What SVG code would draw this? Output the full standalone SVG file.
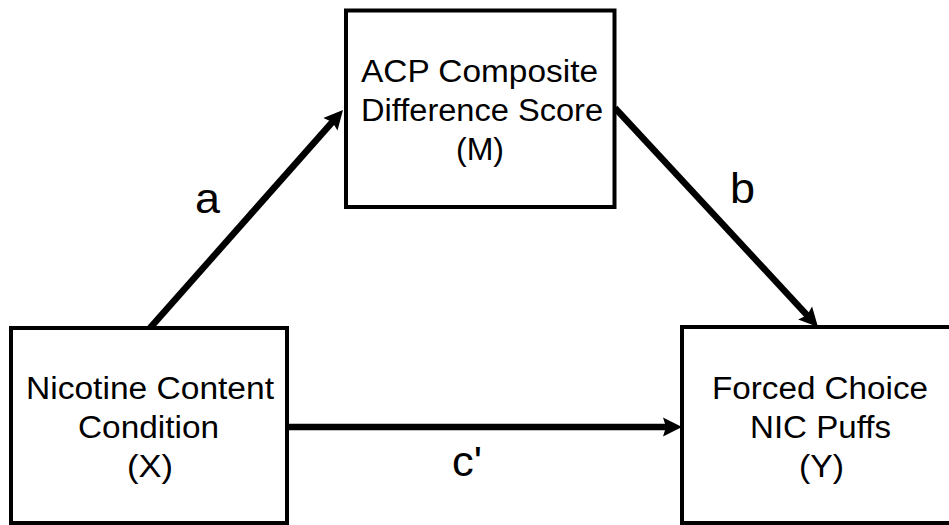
<svg xmlns="http://www.w3.org/2000/svg" width="949" height="525" viewBox="0 0 949 525">
<style>
.box{fill:#fff;stroke:#000;stroke-width:4}
.t{font-family:"Liberation Sans",Arial,sans-serif;font-size:31px;fill:#000}
.lbl{font-family:"Liberation Sans",Arial,sans-serif;font-size:42px;fill:#000}
.c{stroke:#000;stroke-width:6.5;fill:none;marker-end:url(#ah)}
</style>
<defs>
<marker id="ah" markerUnits="userSpaceOnUse" markerWidth="20" markerHeight="20" refX="5" refY="9.5" orient="auto" viewBox="0 0 20 19">
<path d="M0,0 L19,9.5 L0,19 L3,9.5 z" fill="#000"/>
</marker>
</defs>
<rect width="949" height="525" fill="#fff"/>
<g id="connectors">
<line class="c" x1="150" y1="328" x2="333.7" y2="120.5"/>
<line class="c" x1="615" y1="108" x2="808.5" y2="316.7"/>
<line class="c" x1="287" y1="427" x2="668" y2="427"/>
<text class="lbl" x="195" y="213" textLength="25" lengthAdjust="spacingAndGlyphs">a</text>
<text class="lbl" x="730" y="203" textLength="25" lengthAdjust="spacingAndGlyphs">b</text>
<text class="lbl" x="452" y="476" textLength="30" lengthAdjust="spacingAndGlyphs">c'</text>
</g>
<g id="nodeM">
<rect class="box" x="346" y="10.5" width="268.5" height="196.5"/>
<text class="t" x="361" y="82" textLength="237" lengthAdjust="spacingAndGlyphs">ACP Composite</text>
<text class="t" x="361" y="121" textLength="242" lengthAdjust="spacingAndGlyphs">Difference Score</text>
<text class="t" x="456" y="160" textLength="48" lengthAdjust="spacingAndGlyphs">(M)</text>
</g>
<g id="nodeX">
<rect class="box" x="11" y="328" width="276" height="195"/>
<text class="t" x="26" y="399" textLength="248" lengthAdjust="spacingAndGlyphs">Nicotine Content</text>
<text class="t" x="78" y="438" textLength="141" lengthAdjust="spacingAndGlyphs">Condition</text>
<text class="t" x="127" y="477" textLength="46" lengthAdjust="spacingAndGlyphs">(X)</text>
</g>
<g id="nodeY">
<rect class="box" x="682" y="327" width="276" height="196"/>
<text class="t" x="712" y="399" textLength="216" lengthAdjust="spacingAndGlyphs">Forced Choice</text>
<text class="t" x="750" y="438" textLength="141" lengthAdjust="spacingAndGlyphs">NIC Puffs</text>
<text class="t" x="799" y="477" textLength="45" lengthAdjust="spacingAndGlyphs">(Y)</text>
</g>
</svg>
